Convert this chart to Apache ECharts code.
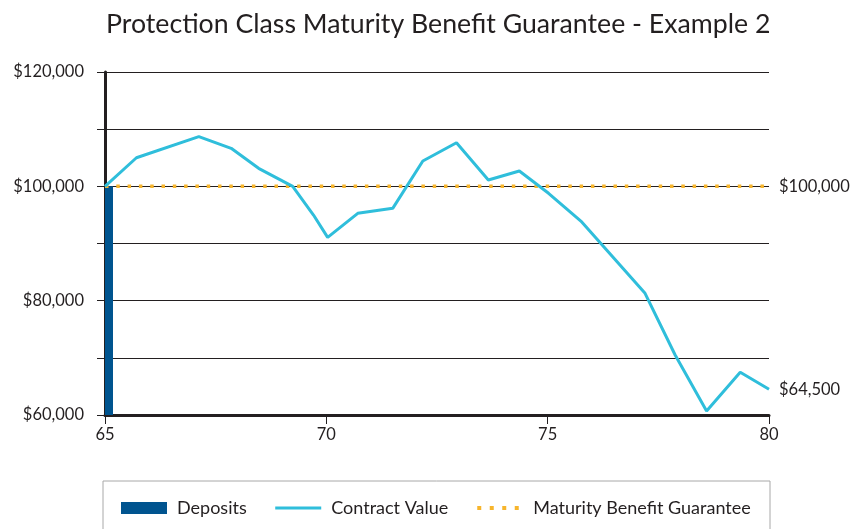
<!DOCTYPE html>
<html>
<head>
<meta charset="utf-8">
<script src="https://cdn.jsdelivr.net/npm/echarts@6/dist/echarts.min.js"></script>
<style>
html, body { margin: 0; padding: 0; background: #fff; }
#chart { width: 857px; height: 529px; }
</style>
</head>
<body>
<div id="chart"></div>
<script>
// values
var ages = [65, 65.71, 67.12, 67.85, 68.47, 69.24, 69.71, 70.03, 70.71, 71.5, 72.18,
            72.94, 73.66, 74.36, 75.02, 75.75, 77.2, 77.88, 78.59, 79.35, 80];
var contractValues = [100000, 105000, 108700, 106650, 103150, 100000, 94980, 91080, 95280, 96150, 104430,
                      107630, 101100, 102680, 98780, 93930, 81290, 70500, 60700, 67470, 64500];
var depositAges = [65];
var depositValues = [100000];
var guaranteeAges = [65, 80];
var guaranteeValues = [100000, 100000];

var ink = '#231f20';
var font = 'Lato';

function pairs(xs, ys) {
    return xs.map(function (x, i) { return [x, ys[i]]; });
}
function money(v) {
    return '$' + Math.round(v).toString().replace(/\B(?=(\d{3})+(?!\d))/g, ',');
}

var chart = echarts.init(document.getElementById('chart'));
chart.setOption({
    animation: false,
    textStyle: { fontFamily: font, color: ink },
    title: {
        text: 'Protection Class Maturity Benefit Guarantee - Example 2',
        left: 101,
        top: 6,
        textStyle: { fontFamily: font, fontSize: 26.7, fontWeight: 'normal', color: ink }
    },
    grid: { left: 105, right: 88, top: 72, bottom: 114 },
    graphic: [{
        type: 'rect',
        shape: { x: 103, y: 481, width: 667, height: 60 },
        style: { fill: 'none', stroke: '#a8a8a8', lineWidth: 1 }
    }],
    legend: {
        left: 116,
        top: 494,
        itemWidth: 46,
        itemHeight: 12,
        itemGap: 27,
        textStyle: { fontFamily: font, fontSize: 18, color: ink, padding: [0, 0, 0, 5] },
        data: [
            { name: 'Deposits', icon: 'rect' },
            {
                name: 'Contract Value',
                itemStyle: { opacity: 0 },
                lineStyle: { width: 3, color: '#2fbedb' }
            },
            {
                name: 'Maturity Benefit Guarantee',
                itemStyle: { opacity: 0 },
                lineStyle: { width: 4, color: '#f7b52c', type: [4, 8.5], cap: 'butt' }
            }
        ]
    },
    xAxis: {
        type: 'value',
        min: 65,
        max: 80,
        interval: 5,
        axisLine: { lineStyle: { color: ink, width: 3 } },
        axisTick: { length: 9, lineStyle: { color: ink, width: 1 } },
        axisLabel: { fontFamily: font, fontSize: 16.5, color: ink, margin: 11 },
        splitLine: { show: false }
    },
    yAxis: {
        type: 'value',
        min: 60000,
        max: 120000,
        interval: 10000,
        axisLine: { show: true, lineStyle: { color: ink, width: 3 } },
        axisTick: { show: true, length: 8, lineStyle: { color: ink, width: 1 } },
        axisLabel: {
            fontFamily: font, fontSize: 16.5, color: ink, margin: 21,
            formatter: function (v) { return (v / 10000) % 2 === 0 ? money(v) : ''; }
        },
        splitLine: { lineStyle: { color: ink, width: 1 } }
    },
    series: [
        {
            name: 'Deposits',
            type: 'custom',
            itemStyle: { color: '#00548f' },
            encode: { x: 0, y: 1 },
            renderItem: function (params, api) {
                var top = api.coord([api.value(0), api.value(1)]);
                var bottom = api.coord([api.value(0), 60000]);
                return {
                    type: 'rect',
                    shape: { x: top[0], y: top[1], width: 8, height: bottom[1] - top[1] },
                    style: { fill: '#00548f' }
                };
            },
            data: pairs(depositAges, depositValues)
        },
        {
            name: 'Maturity Benefit Guarantee',
            type: 'line',
            showSymbol: false,
            symbol: 'none',
            lineStyle: { color: '#f7b52c', width: 3.5, type: [3.5, 7.8], cap: 'butt' },
            itemStyle: { color: '#f7b52c' },
            endLabel: {
                show: true, distance: 10,
                fontFamily: font, fontSize: 16.5, color: ink,
                formatter: function (p) { return money(p.value[1]); }
            },
            data: pairs(guaranteeAges, guaranteeValues)
        },
        {
            name: 'Contract Value',
            type: 'line',
            showSymbol: false,
            symbol: 'none',
            lineStyle: { color: '#2fbedb', width: 3 },
            itemStyle: { color: '#2fbedb' },
            endLabel: {
                show: true, distance: 10,
                fontFamily: font, fontSize: 16.5, color: ink,
                formatter: function (p) { return money(p.value[1]); }
            },
            data: pairs(ages, contractValues)
        }
    ]
});
</script>
</body>
</html>
